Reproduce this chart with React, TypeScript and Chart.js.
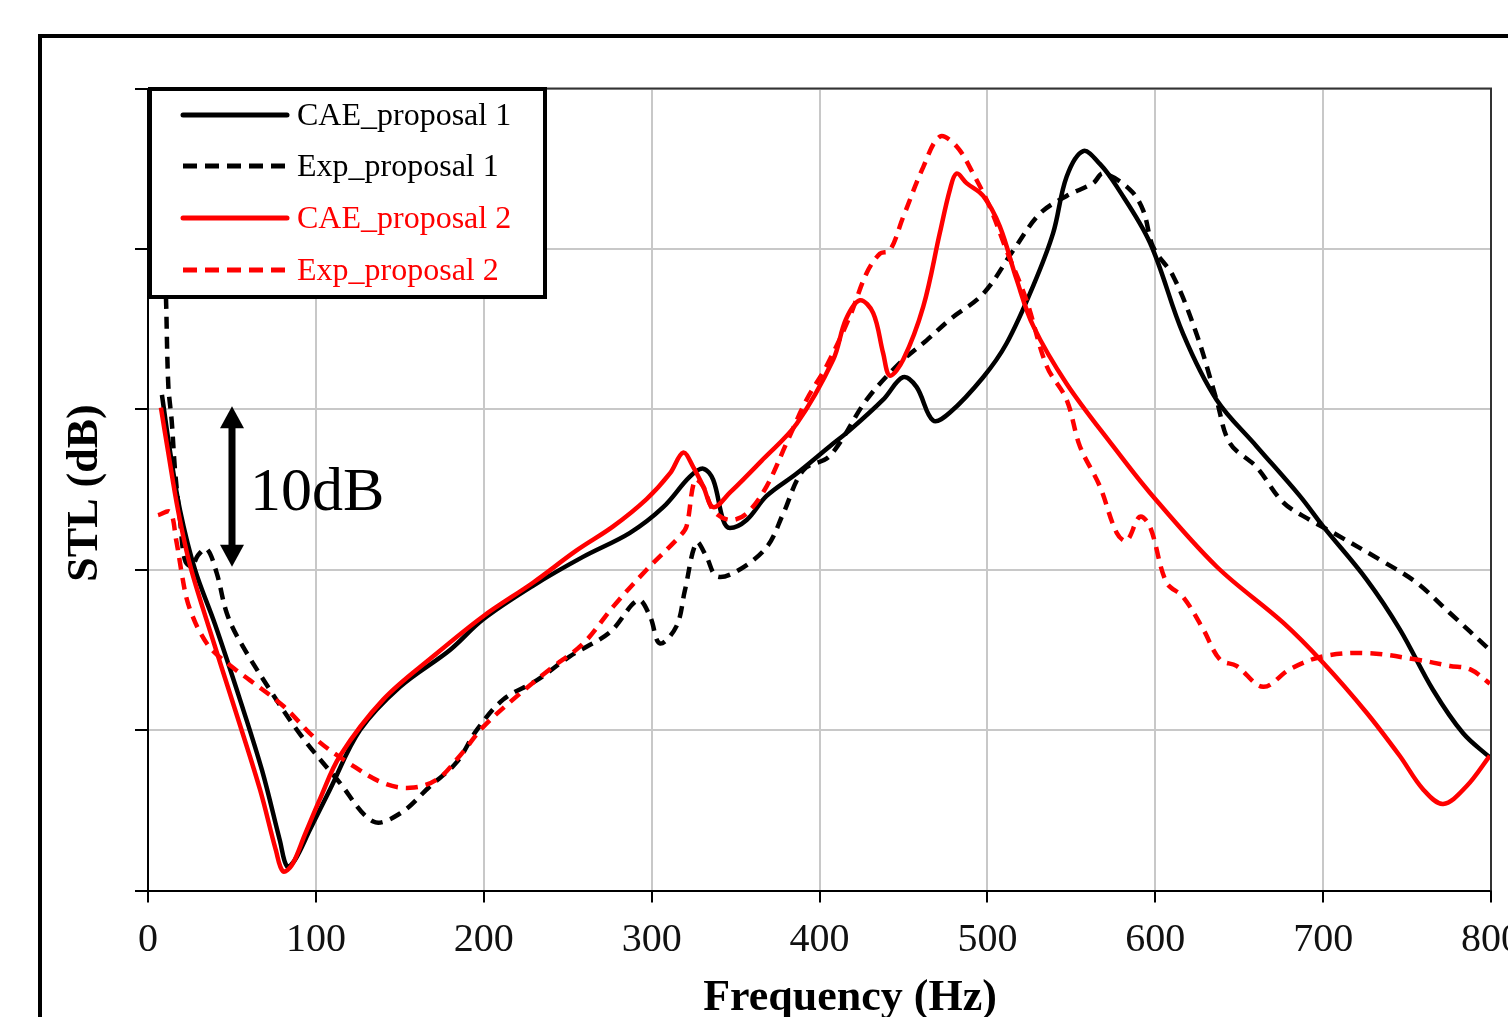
import React, { useEffect, useRef } from "react";
import { Chart, registerables } from "chart.js";

Chart.register(...registerables);

const xTicks = [0, 100, 200, 300, 400, 500, 600, 700, 800];
const yTicks = [0, 10, 20, 30, 40, 50];

const seriesNames = ["CAE_proposal 1", "Exp_proposal 1", "CAE_proposal 2", "Exp_proposal 2"];
const seriesColors = ["#000000", "#000000", "#ff0000", "#ff0000"];
const seriesDashed = [false, true, false, true];

const cae1Freq = [8.3, 13.1, 19.1, 28.0, 39.9, 54.8, 67.9, 78.6, 82.8, 87.5, 96.5, 108.4, 126.3, 150.1, 179.9, 199.5, 229.3, 259.1, 287.1, 306.9, 322.8, 330.7, 336.7, 342.6, 346.6, 356.6, 368.5, 386.4, 406.2, 418.1, 437.9, 449.8, 457.8, 467.7, 477.7, 497.5, 511.4, 527.3, 539.2, 547.2, 557.1, 567.0, 577.0, 596.8, 616.6, 636.5, 660.3, 686.1, 700.0, 725.8, 745.6, 765.5, 783.4, 799.2];
const cae1STL = [30.9, 27.4, 23.7, 20.0, 16.6, 11.9, 7.5, 3.1, 1.5, 1.9, 3.8, 6.3, 10.0, 12.7, 15.0, 16.9, 19.0, 20.8, 22.3, 23.9, 25.8, 26.3, 25.6, 23.1, 22.6, 23.1, 24.6, 26.0, 27.7, 28.7, 30.6, 32.0, 31.4, 29.3, 29.8, 32.0, 34.1, 37.7, 41.0, 44.5, 46.1, 45.3, 43.9, 40.4, 34.7, 30.6, 27.7, 24.6, 22.7, 19.4, 16.3, 12.5, 9.8, 8.3];

const exp1Freq = [9.0, 10.7, 12.1, 14.1, 16.1, 19.1, 22.0, 26.0, 29.8, 35.0, 40.9, 46.9, 54.4, 72.7, 90.9, 113.6, 134.2, 150.1, 168.0, 183.9, 195.8, 211.5, 231.5, 251.3, 275.1, 292.0, 299.0, 304.9, 314.9, 319.8, 326.8, 332.7, 338.7, 350.6, 368.5, 378.4, 390.3, 406.2, 428.1, 447.9, 463.8, 477.7, 497.5, 515.4, 531.3, 547.2, 563.0, 569.0, 584.9, 592.8, 598.8, 610.7, 624.6, 636.5, 644.4, 660.3, 676.2, 692.1, 706.0, 735.8, 755.6, 775.5, 799.3];
const exp1STL = [42.0, 37.0, 31.5, 29.3, 26.2, 23.1, 20.6, 20.2, 20.9, 21.3, 19.8, 17.3, 15.6, 12.5, 9.7, 6.8, 4.3, 4.8, 6.5, 8.0, 10.0, 11.9, 13.1, 14.6, 16.1, 18.1, 17.1, 15.4, 16.5, 18.7, 21.7, 20.8, 19.6, 19.9, 21.4, 23.5, 26.2, 27.1, 30.6, 32.9, 34.3, 35.6, 37.2, 39.9, 42.2, 43.3, 44.1, 44.7, 43.7, 42.4, 40.1, 38.3, 34.7, 30.6, 27.9, 26.4, 24.2, 23.1, 22.3, 20.5, 19.2, 17.3, 15.0];

const cae2Freq = [7.7, 11.9, 17.9, 25.0, 36.9, 51.8, 66.7, 76.2, 80.4, 85.8, 93.5, 102.4, 114.4, 140.1, 169.9, 199.7, 229.5, 255.3, 277.1, 297.0, 310.9, 318.8, 324.8, 330.7, 336.7, 346.6, 366.5, 386.4, 408.2, 415.7, 424.1, 432.0, 437.9, 441.9, 449.9, 461.8, 471.7, 477.7, 481.6, 487.6, 497.5, 507.4, 517.4, 527.3, 547.2, 574.9, 596.8, 636.5, 676.2, 700.0, 725.8, 745.6, 759.6, 771.5, 785.4, 799.3];
const cae2STL = [30.1, 27.4, 23.7, 20.3, 16.2, 11.3, 6.3, 2.5, 1.2, 1.6, 3.5, 5.7, 8.4, 11.9, 14.6, 17.1, 19.2, 21.2, 22.7, 24.4, 26.0, 27.3, 26.4, 25.2, 23.9, 24.8, 26.9, 29.1, 33.1, 35.6, 36.8, 36.0, 33.5, 32.1, 33.1, 36.4, 41.0, 43.7, 44.7, 44.1, 43.3, 41.4, 38.1, 35.2, 31.6, 27.7, 24.8, 20.2, 16.7, 14.2, 11.1, 8.4, 6.3, 5.4, 6.5, 8.4];

const exp2Freq = [6.0, 13.1, 16.7, 20.2, 23.0, 26.2, 31.0, 38.1, 51.8, 60.8, 80.6, 100.5, 120.3, 140.1, 156.1, 171.9, 185.8, 199.7, 219.6, 239.4, 259.3, 277.1, 297.0, 316.9, 320.8, 325.8, 330.7, 336.7, 346.6, 356.6, 368.5, 380.4, 392.3, 404.2, 418.1, 428.1, 436.0, 441.9, 449.9, 461.8, 471.7, 481.6, 491.5, 501.5, 511.4, 523.3, 535.3, 547.2, 555.1, 567.0, 577.0, 582.9, 590.8, 596.8, 606.7, 616.6, 628.5, 638.5, 648.4, 664.3, 680.2, 700.0, 725.8, 755.6, 775.5, 787.4, 799.3];
const exp2STL = [23.4, 23.6, 21.9, 19.7, 18.2, 17.2, 16.1, 15.0, 13.8, 13.1, 11.5, 9.4, 7.9, 6.7, 6.4, 6.9, 8.4, 10.2, 12.1, 13.8, 15.4, 17.7, 20.0, 22.1, 22.7, 25.6, 25.2, 23.7, 23.1, 23.5, 25.2, 27.9, 30.6, 32.7, 35.8, 38.5, 39.7, 39.9, 42.0, 45.1, 47.0, 46.4, 44.7, 42.6, 39.9, 36.8, 32.7, 30.6, 27.7, 25.2, 22.3, 21.8, 23.3, 22.7, 19.2, 18.3, 16.3, 14.4, 14.0, 12.7, 13.8, 14.6, 14.8, 14.4, 14.0, 13.8, 12.9];

const xTitle = "Frequency (Hz)";
const yTitle = "STL (dB)";
const scaleNote = "10dB";

const SERIF = "'Liberation Serif', 'Times New Roman', serif";

const toPoints = (xs: number[], ys: number[]) => xs.map((x, i) => ({ x, y: ys[i] }));

const decorPlugin = {
  id: "decor",
  beforeDraw(chart: any) {
    const ctx = chart.ctx;
    ctx.save();
    ctx.fillStyle = "#ffffff";
    ctx.fillRect(0, 0, chart.width, chart.height);
    ctx.fillStyle = "#000000";
    ctx.fillRect(38, 34, 4, chart.height - 34);
    ctx.fillRect(38, 34, chart.width - 38, 4);
    ctx.restore();
  },
  afterDraw(chart: any) {
    const ctx = chart.ctx;
    const area = chart.chartArea;
    const ys = chart.scales.y;
    ctx.save();
    // plot border top/right
    ctx.strokeStyle = "#333333";
    ctx.lineWidth = 2;
    ctx.beginPath();
    ctx.moveTo(area.left, area.top);
    ctx.lineTo(area.right, area.top);
    ctx.lineTo(area.right, area.bottom);
    ctx.stroke();

    // axis titles
    ctx.fillStyle = "#000000";
    ctx.font = `bold 44px ${SERIF}`;
    ctx.textAlign = "center";
    ctx.textBaseline = "alphabetic";
    ctx.fillText(xTitle, 850, 1010);
    ctx.save();
    ctx.translate(97, 493);
    ctx.rotate(-Math.PI / 2);
    ctx.fillText(yTitle, 0, 0);
    ctx.restore();

    // 10 dB arrow
    const ax = 232;
    const yTop = ys.getPixelForValue(yTicks[3]) - 3;
    const yBot = ys.getPixelForValue(yTicks[2]) - 3;
    ctx.fillStyle = "#000000";
    ctx.fillRect(ax - 3.5, yTop + 18, 7, yBot - yTop - 36);
    ctx.beginPath();
    ctx.moveTo(ax, yTop);
    ctx.lineTo(ax - 12, yTop + 22);
    ctx.lineTo(ax + 12, yTop + 22);
    ctx.closePath();
    ctx.fill();
    ctx.beginPath();
    ctx.moveTo(ax, yBot);
    ctx.lineTo(ax - 12, yBot - 22);
    ctx.lineTo(ax + 12, yBot - 22);
    ctx.closePath();
    ctx.fill();
    ctx.font = `62px ${SERIF}`;
    ctx.textAlign = "left";
    ctx.fillText(scaleNote, 250, 510);

    // legend
    const lx = 150, ly = 89, lw = 395, lh = 208;
    ctx.fillStyle = "#ffffff";
    ctx.fillRect(lx, ly, lw, lh);
    ctx.strokeStyle = "#000000";
    ctx.lineWidth = 4;
    ctx.strokeRect(lx, ly, lw, lh);
    const rowY = [115, 166, 218, 270];
    ctx.font = `32px ${SERIF}`;
    ctx.textBaseline = "middle";
    seriesNames.forEach((name, i) => {
      ctx.strokeStyle = seriesColors[i];
      ctx.lineWidth = 5;
      ctx.lineCap = seriesDashed[i] ? "butt" : "round";
      ctx.setLineDash(seriesDashed[i] ? [14, 8] : []);
      ctx.beginPath();
      ctx.moveTo(183, rowY[i]);
      ctx.lineTo(287, rowY[i]);
      ctx.stroke();
      ctx.setLineDash([]);
      ctx.fillStyle = seriesColors[i];
      ctx.fillText(name, 297, rowY[i] + 2);
    });
    ctx.restore();
  },
};

export default function App() {
  const ref = useRef<HTMLCanvasElement | null>(null);

  useEffect(() => {
    if (!ref.current) return;
    const data = [
      toPoints(cae1Freq, cae1STL),
      toPoints(exp1Freq, exp1STL),
      toPoints(cae2Freq, cae2STL),
      toPoints(exp2Freq, exp2STL),
    ];
    const chart = new Chart(ref.current, {
      type: "line",
      data: {
        datasets: data.map((d, i) => ({
          label: seriesNames[i],
          data: d,
          borderColor: seriesColors[i],
          backgroundColor: seriesColors[i],
          borderWidth: 4.5,
          borderDash: seriesDashed[i] ? [12, 8] : [],
          borderJoinStyle: "round" as const,
          pointRadius: 0,
          fill: false,
          tension: 0.35,
          order: 4 - i,
        })),
      },
      options: {
        animation: false,
        responsive: false,
        devicePixelRatio: 1,
        layout: { padding: { left: 0, top: 88.5, right: 17, bottom: 0 } },
        plugins: { legend: { display: false }, tooltip: { enabled: false } },
        scales: {
          x: {
            type: "linear",
            min: xTicks[0],
            max: xTicks[xTicks.length - 1],
            afterBuildTicks: (s: any) => { s.ticks = xTicks.map((v) => ({ value: v })); },
            afterFit: (s: any) => { s.height = 126.5; s.paddingLeft = 0; s.paddingRight = 0; },
            ticks: { font: { family: SERIF, size: 40 }, color: "#111111", padding: 14, maxRotation: 0, autoSkip: false },
            grid: { color: "#c8c8c8", lineWidth: 2, tickColor: "#000000", tickLength: 12 },
            border: { color: "#000000", width: 2 },
          },
          y: {
            type: "linear",
            min: yTicks[0],
            max: yTicks[yTicks.length - 1],
            afterBuildTicks: (s: any) => { s.ticks = yTicks.map((v) => ({ value: v })); },
            afterFit: (s: any) => { s.width = 148; s.paddingTop = 0; s.paddingBottom = 0; },
            ticks: { display: false },
            grid: { color: "#c8c8c8", lineWidth: 2, tickColor: "#000000", tickLength: 13 },
            border: { color: "#000000", width: 2 },
          },
        },
      },
      plugins: [decorPlugin],
    });
    return () => chart.destroy();
  }, []);

  return (
    <div style={{ position: "fixed", left: 0, top: 0, width: 1508, height: 1017, overflow: "hidden", background: "#fff" }}>
      <canvas ref={ref} width={1508} height={1017} style={{ display: "block" }} />
    </div>
  );
}
